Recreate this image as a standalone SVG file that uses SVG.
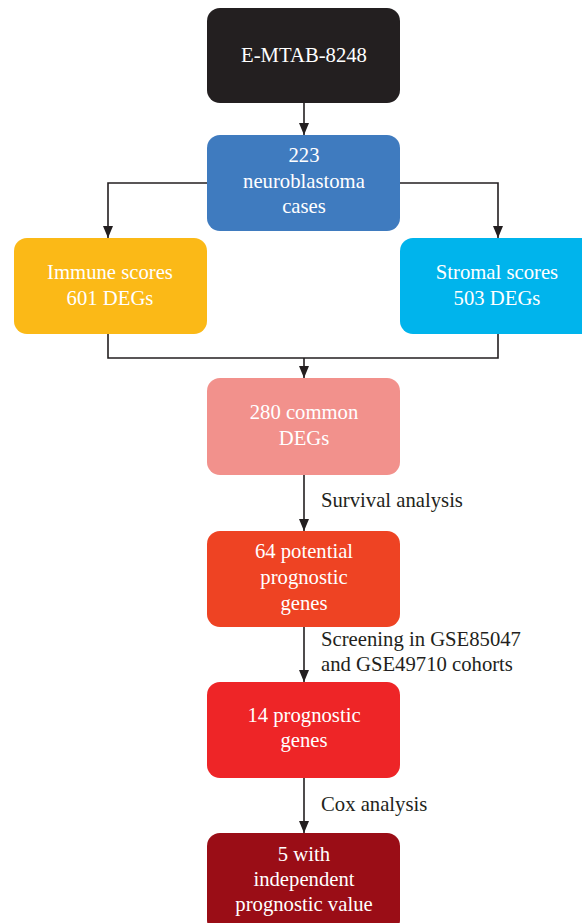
<svg xmlns="http://www.w3.org/2000/svg" width="582" height="923" viewBox="0 0 582 923">
<style>
.box text{font-family:"Liberation Serif","Times New Roman",serif;font-size:20.7px;fill:#ffffff;text-anchor:middle}
.lbl{font-family:"Liberation Serif","Times New Roman",serif;font-size:20.7px;fill:#231f20}
.conn{fill:none;stroke:#231f20;stroke-width:1.6}
</style>
<defs>
<marker id="ah" markerWidth="12" markerHeight="10" refX="12" refY="5" orient="auto" markerUnits="userSpaceOnUse">
<path d="M0,0 L12,5 L0,10 Z" fill="#231f20"/>
</marker>
</defs>
<g id="connectors">
<path class="conn" d="M304,103 V135" marker-end="url(#ah)"/>
<path class="conn" d="M207,183 H108 V238" marker-end="url(#ah)"/>
<path class="conn" d="M400,183 H498 V238" marker-end="url(#ah)"/>
<path class="conn" d="M108,334 V358 H498 V334"/>
<path class="conn" d="M304,358 V378" marker-end="url(#ah)"/>
<path class="conn" d="M304,475 V531" marker-end="url(#ah)"/>
<path class="conn" d="M304,627 V682" marker-end="url(#ah)"/>
<path class="conn" d="M304,778 V833" marker-end="url(#ah)"/>
<text class="lbl" x="321" y="507">Survival analysis</text>
<text class="lbl" x="321" y="646">Screening in GSE85047</text>
<text class="lbl" x="321" y="671">and GSE49710 cohorts</text>
<text class="lbl" x="321" y="811">Cox analysis</text>
</g>
<g id="n1" class="box">
<rect x="207" y="8" width="193" height="95" rx="13" fill="#231f20"/>
<text x="304" y="62">E-MTAB-8248</text>
</g>
<g id="n2" class="box">
<rect x="207" y="135" width="193" height="96" rx="13" fill="#3f7bbf"/>
<text x="304" y="162">223</text>
<text x="304" y="188">neuroblastoma</text>
<text x="304" y="213">cases</text>
</g>
<g id="n3" class="box">
<rect x="14" y="238" width="193" height="96" rx="13" fill="#fbb917"/>
<text x="110" y="279">Immune scores</text>
<text x="110" y="305">601 DEGs</text>
</g>
<g id="n4" class="box">
<rect x="400" y="238" width="196" height="96" rx="13" fill="#00b4ec"/>
<text x="497" y="279">Stromal scores</text>
<text x="497" y="305">503 DEGs</text>
</g>
<g id="n5" class="box">
<rect x="207" y="378" width="193" height="97" rx="13" fill="#f2918c"/>
<text x="304" y="419">280 common</text>
<text x="304" y="445">DEGs</text>
</g>
<g id="n6" class="box">
<rect x="207" y="531" width="193" height="96" rx="13" fill="#ee4323"/>
<text x="304" y="558">64 potential</text>
<text x="304" y="584">prognostic</text>
<text x="304" y="610">genes</text>
</g>
<g id="n7" class="box">
<rect x="207" y="682" width="193" height="96" rx="13" fill="#ee2527"/>
<text x="304" y="722">14 prognostic</text>
<text x="304" y="747">genes</text>
</g>
<g id="n8" class="box">
<rect x="207" y="833" width="193" height="100" rx="13" fill="#9a0d16"/>
<text x="304" y="861">5 with</text>
<text x="304" y="886">independent</text>
<text x="304" y="911">prognostic value</text>
</g>
</svg>
